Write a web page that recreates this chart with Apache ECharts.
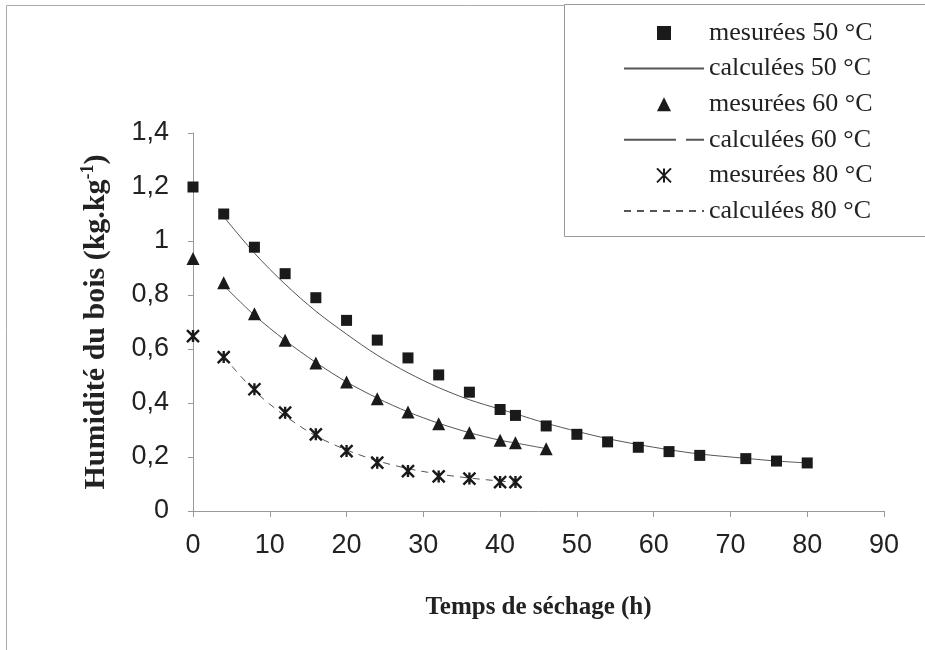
<!DOCTYPE html>
<html>
<head>
<meta charset="utf-8">
<script src="https://cdn.jsdelivr.net/npm/echarts@6/dist/echarts.min.js"></script>
<style>
html, body { margin: 0; padding: 0; background: #fff; }
#chart { width: 925px; height: 650px; }
</style>
</head>
<body>
<div id="chart"></div>
<script>
// temps de séchage (h)
const t50 = [0, 4, 8, 12, 16, 20, 24, 28, 32, 36, 40, 42, 46, 50, 54, 58, 62, 66, 72, 76, 80]
const t60 = [0, 4, 8, 12, 16, 20, 24, 28, 32, 36, 40, 42, 46]
const t80 = [0, 4, 8, 12, 16, 20, 24, 28, 32, 36, 40, 42]

// humidité mesurée
const mes50 = [1.20, 1.10, 0.977, 0.879, 0.790, 0.706, 0.633, 0.567, 0.504, 0.440, 0.376, 0.354, 0.315, 0.284, 0.256, 0.236, 0.220, 0.206, 0.194, 0.185, 0.178]
const mes60 = [0.935, 0.845, 0.731, 0.632, 0.548, 0.478, 0.416, 0.367, 0.323, 0.290, 0.262, 0.253, 0.231]
const mes80 = [0.648, 0.570, 0.451, 0.364, 0.284, 0.222, 0.179, 0.148, 0.128, 0.120, 0.107, 0.107]

// humidité calculée (courbes du modèle, à partir de 4 h)
const tc50 = t50.slice(1)
const tc60 = t60.slice(1)
const tc80 = t80.slice(1)
const cal50 = [1.09, 0.955, 0.84, 0.74, 0.655, 0.577, 0.512, 0.457, 0.412, 0.377, 0.36, 0.325, 0.295, 0.268, 0.246, 0.227, 0.211, 0.195, 0.185, 0.178]
const cal60 = [0.835, 0.725, 0.632, 0.55, 0.478, 0.418, 0.367, 0.325, 0.29, 0.262, 0.252, 0.231]
const cal80 = [0.572, 0.445, 0.352, 0.278, 0.226, 0.186, 0.157, 0.137, 0.122, 0.111, 0.106]

const yTicks = [0, 0.2, 0.4, 0.6, 0.8, 1, 1.2, 1.4]

const pairs = (xs, ys) => xs.map((x, i) => [x, ys[i]])

const SQUARE = 'path://M0,0L10,0L10,10L0,10Z'
const TRIANGLE = 'path://M5,0L10,10L0,10Z'
const STAR = 'path://M0,0L10,10M10,0L0,10M5,0L5,10'

let myChart = echarts.init(document.getElementById('chart'), null, {renderer: 'canvas'})

const serif = '"Liberation Serif", "Times New Roman", serif'
const sans = '"Liberation Sans", Arial, sans-serif'
const ink = '#1a1a1a'
const noSymbol = {color: 'rgba(0,0,0,0)'}

let option = {
  animation: false,
  backgroundColor: '#fff',
  graphic: [
    // cadre extérieur
    {type: 'rect', shape: {x: 6.5, y: 5.5, width: 1000, height: 1000}, style: {fill: 'none', stroke: '#aaa', lineWidth: 1}, z: 0},
    // cadre de la légende
    {type: 'rect', shape: {x: 564.5, y: 4.5, width: 400, height: 232}, style: {fill: '#fff', stroke: '#999', lineWidth: 1}, z: 0}
  ],
  grid: {left: 193, right: 41, top: 133, bottom: 139},
  legend: {
    orient: 'vertical',
    left: 618,
    top: 15,
    itemWidth: 80,
    itemHeight: 14,
    itemGap: 9.6,
    textStyle: {fontFamily: serif, fontSize: 26, color: '#222', lineHeight: 26},
    data: [
      {name: 'mesurées 50 °C'},
      {name: 'calculées 50 °C'},
      {name: 'mesurées 60 °C'},
      {name: 'calculées 60 °C', lineStyle: {type: [52, 10]}},
      {name: 'mesurées 80 °C'},
      {name: 'calculées 80 °C'}
    ]
  },
  xAxis: {
    type: 'value',
    min: 0,
    max: 90,
    interval: 10,
    name: 'Temps de séchage (h)',
    nameLocation: 'middle',
    nameGap: 84,
    nameTextStyle: {fontFamily: serif, fontSize: 25, fontWeight: 'bold', color: '#222'},
    axisLine: {lineStyle: {color: '#999', width: 1}},
    axisTick: {show: true, length: 6, lineStyle: {color: '#999'}},
    axisLabel: {fontFamily: sans, fontSize: 27, color: '#222', margin: 21},
    splitLine: {show: false}
  },
  yAxis: {
    type: 'value',
    min: 0,
    max: 1.4,
    interval: 0.2,
    name: '{a|Humidité du bois (kg.kg}{s|-1}{a|)}',
    nameLocation: 'middle',
    nameGap: 80,
    nameTextStyle: {
      rich: {
        a: {fontFamily: serif, fontSize: 30, fontWeight: 'bold', color: '#222', lineHeight: 34},
        s: {fontFamily: serif, fontSize: 18, fontWeight: 'bold', color: '#222', verticalAlign: 'top', padding: [0, 0, 14, 0]}
      }
    },
    axisLine: {show: true, lineStyle: {color: '#999', width: 1}},
    axisTick: {show: true, length: 5, lineStyle: {color: '#999'}},
    axisLabel: {
      fontFamily: sans, fontSize: 27, color: '#222', margin: 24,
      formatter: v => {
        let s = yTicks.find(t => Math.abs(t - v) < 1e-6)
        return String(s === undefined ? v : s).replace('.', ',')
      }
    },
    splitLine: {show: false}
  },
  series: [
    {
      name: 'mesurées 50 °C', type: 'scatter', data: pairs(t50, mes50),
      symbol: SQUARE, symbolSize: 11, symbolKeepAspect: true,
      itemStyle: {color: ink, opacity: 1}, z: 5
    },
    {
      name: 'calculées 50 °C', type: 'line', data: pairs(tc50, cal50),
      smooth: 0.3, symbol: 'none', itemStyle: noSymbol, lineStyle: {color: '#555', width: 1}
    },
    {
      name: 'mesurées 60 °C', type: 'scatter', data: pairs(t60, mes60),
      symbol: TRIANGLE, symbolSize: 13, symbolKeepAspect: true,
      itemStyle: {color: ink, opacity: 1}, z: 5
    },
    {
      name: 'calculées 60 °C', type: 'line', data: pairs(tc60, cal60),
      smooth: 0.3, symbol: 'none', itemStyle: noSymbol, lineStyle: {color: '#555', width: 1}
    },
    {
      name: 'mesurées 80 °C', type: 'scatter', data: pairs(t80, mes80),
      symbol: STAR, symbolSize: 12, symbolKeepAspect: true,
      itemStyle: {color: 'none', borderColor: ink, borderWidth: 2.4, opacity: 1}, z: 5
    },
    {
      name: 'calculées 80 °C', type: 'line', data: pairs(tc80, cal80),
      smooth: 0.3, symbol: 'none', itemStyle: noSymbol, lineStyle: {color: '#555', width: 1, type: [7, 6]}
    }
  ]
}

myChart.setOption(option)
</script>
</body>
</html>
